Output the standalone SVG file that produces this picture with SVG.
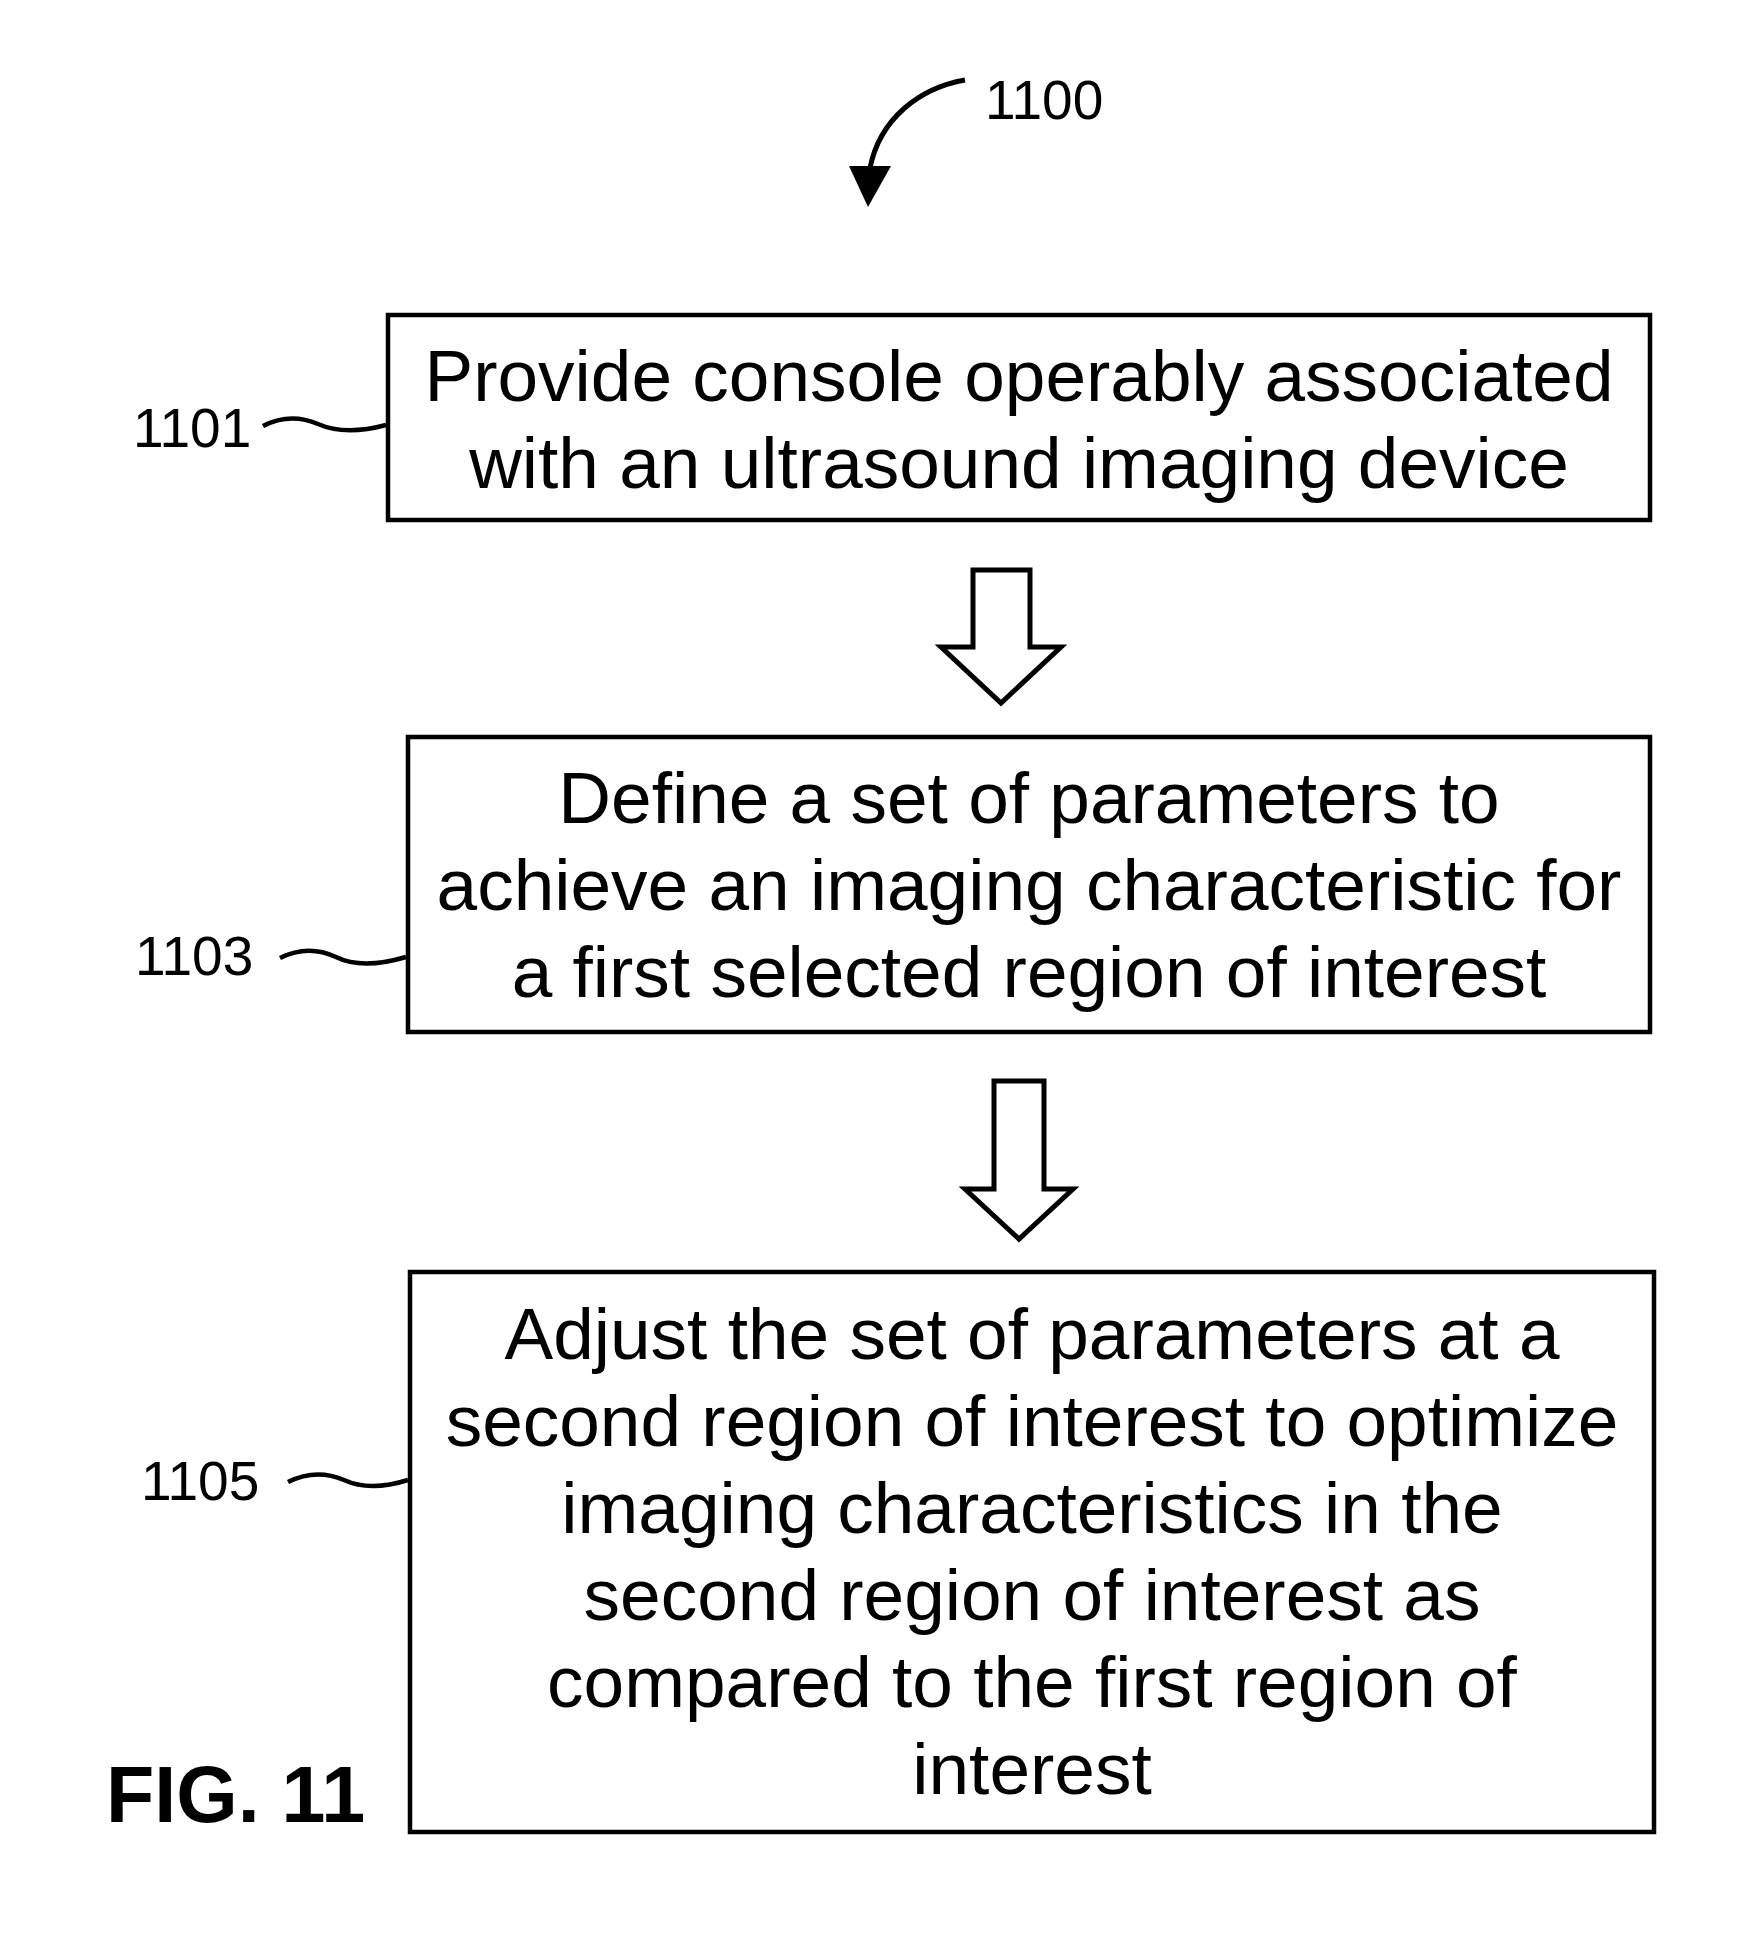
<svg xmlns="http://www.w3.org/2000/svg" width="1764" height="1944" viewBox="0 0 1764 1944">
<style>
.box{fill:#fff;stroke:#000;stroke-width:4.5}
.t{font-family:"Liberation Sans",Arial,sans-serif;font-size:73px;fill:#000;text-anchor:middle}
.lbl{font-family:"Liberation Sans",Arial,sans-serif;font-size:55px;fill:#000}
.sq{fill:none;stroke:#000;stroke-width:4.5}
.blk{fill:#fff;stroke:#000;stroke-width:5;stroke-linejoin:miter}
.fig{font-family:"Liberation Sans",Arial,sans-serif;font-size:79px;font-weight:bold;fill:#000}
</style>
<rect width="1764" height="1944" fill="#fff"/>
<g id="ref-1100">
<path d="M965,80 C920,88 880,118 870,168" fill="none" stroke="#000" stroke-width="5"/>
<polygon points="849,166 891,166 868,207" fill="#000"/>
<text class="lbl" x="985" y="119">1100</text>
</g>
<g id="node-1101">
<rect class="box" x="388" y="315" width="1262" height="205"/>
<text class="t" x="1019" y="401">Provide console operably associated</text>
<text class="t" x="1019" y="488">with an ultrasound imaging device</text>
<text class="lbl" x="133" y="447">1101</text>
<path class="sq" d="M263,426 Q290,412 318,424 Q345,436 386,425"/>
</g>
<g id="node-1103">
<rect class="box" x="408" y="737" width="1242" height="295"/>
<text class="t" x="1029" y="823">Define a set of parameters to</text>
<text class="t" x="1029" y="910">achieve an imaging characteristic for</text>
<text class="t" x="1029" y="997">a first selected region of interest</text>
<text class="lbl" x="135" y="975">1103</text>
<path class="sq" d="M280,958 Q308,944 336,957 Q362,970 406,957"/>
</g>
<g id="node-1105">
<rect class="box" x="410" y="1272" width="1244" height="560"/>
<text class="t" x="1032" y="1359">Adjust the set of parameters at a</text>
<text class="t" x="1032" y="1446">second region of interest to optimize</text>
<text class="t" x="1032" y="1533">imaging characteristics in the</text>
<text class="t" x="1032" y="1620">second region of interest as</text>
<text class="t" x="1032" y="1707">compared to the first region of</text>
<text class="t" x="1032" y="1794">interest</text>
<text class="lbl" x="141" y="1500">1105</text>
<path class="sq" d="M288,1482 Q316,1468 344,1480 Q370,1492 408,1480"/>
</g>
<g id="connectors">
<polygon class="blk" points="973,570 1030,570 1030,647 1061,647 1001,703 941,647 973,647"/>
<polygon class="blk" points="994,1081 1044,1081 1044,1189 1073,1189 1019,1239 965,1189 994,1189"/>
</g>
<text class="fig" x="106" y="1822">FIG. 11</text>
</svg>
